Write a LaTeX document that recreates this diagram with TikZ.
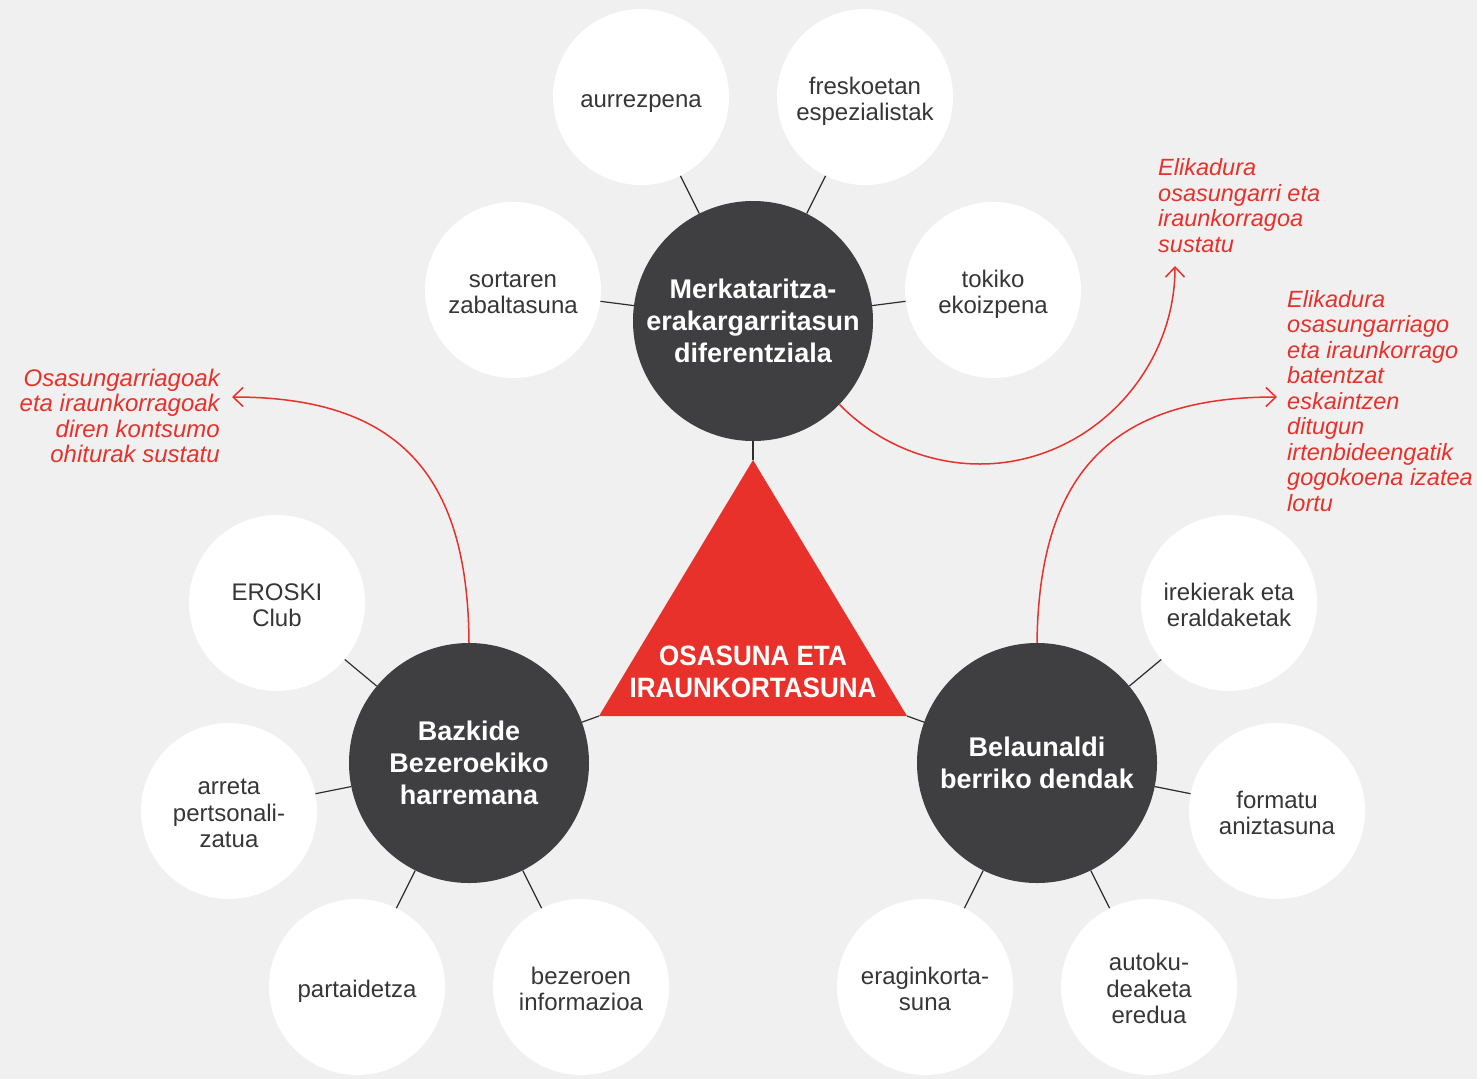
\documentclass[tikz,border=0pt]{standalone}
\usepackage{fontspec}
\setmainfont{Liberation Sans}
\newfontfamily\trifont{Liberation Sans}[FakeStretch=0.93]
\usetikzlibrary{arrows.meta}
\definecolor{bgc}{HTML}{F0F0F0}
\definecolor{darkc}{HTML}{3F3F41}
\definecolor{redc}{HTML}{E8312B}
\definecolor{txtc}{HTML}{363636}
\definecolor{linec}{HTML}{2E2E2E}
\newcommand\lsa{\rule{0pt}{26pt}}
\newcommand\lsb{\rule[-5.5pt]{0pt}{5.5pt}}
\begin{document}
\begin{tikzpicture}[x=1pt,y=-1pt,
  leaf/.style={circle,fill=white,minimum size=176pt,inner sep=0pt,align=center,text=txtc,
    font=\fontsize{24}{26.5}\selectfont},
  hub/.style={circle,fill=darkc,minimum size=240pt,inner sep=0pt,align=center,text=white,font=\bfseries\fontsize{27}{32}\selectfont},
  spoke/.style={draw=linec,line width=1.2pt},
  goal/.style={draw=redc,line width=1.5pt,-{Straight Barb[length=10pt,width=19pt]}},
  note/.style={text=redc,inner sep=0pt,font=\itshape\fontsize{23.5}{25.5}\selectfont}
]
\fill[bgc] (0,0) rectangle (1477,1079);
\useasboundingbox (0,0) rectangle (1477,1079);

% central triangle
\coordinate (apex) at (753,460);
\coordinate (tl) at (599,716);
\coordinate (tr) at (907,716);
\fill[redc] (apex) -- (tl) -- (tr) -- cycle;
\node[font=\trifont\bfseries\fontsize{28}{32}\selectfont,text=white,align=center,inner sep=0pt] (tri) at (753,672) {OSASUNA ETA\\IRAUNKORTASUNA};

% hubs
\node[hub] (top) at (753,321) {Merkataritza-\\erakargarritasun\\diferentziala};
\node[hub] (bl) at (469,763) {Bazkide\\Bezeroekiko\\harremana};
\node[hub] (br) at (1037,763) {Belaunaldi\\berriko dendak};

% leaves
\node[leaf] (aur) at (641,97) {\lsa aurrezpena\lsb};
\node[leaf] (fre) at (865,97) {\lsa freskoetan\\espezialistak\lsb};
\node[leaf] (sor) at (513,290) {\lsa sortaren\\zabaltasuna\lsb};
\node[leaf] (tok) at (993,290) {\lsa tokiko\\ekoizpena\lsb};
\node[leaf] (ero) at (277,603) {\lsa EROSKI\\Club\lsb};
\node[leaf] (arr) at (229,811) {\lsa arreta\\pertsonali-\\zatua\lsb};
\node[leaf] (par) at (357,987) {\lsa partaidetza\lsb};
\node[leaf] (bez) at (581,987) {\lsa bezeroen\\informazioa\lsb};
\node[leaf] (ire) at (1229,603) {\lsa irekierak eta\\eraldaketak\lsb};
\node[leaf] (for) at (1277,811) {\lsa formatu\\aniztasuna\lsb};
\node[leaf] (era) at (925,987) {\lsa eraginkorta-\\suna\lsb};
\node[leaf] (aut) at (1149,987) {\lsa autoku-\\deaketa\\eredua\lsb};

% spokes
\draw[spoke] (aur) -- (top);
\draw[spoke] (fre) -- (top);
\draw[spoke] (sor) -- (top);
\draw[spoke] (tok) -- (top);
\draw[spoke] (ero) -- (bl);
\draw[spoke] (arr) -- (bl);
\draw[spoke] (par) -- (bl);
\draw[spoke] (bez) -- (bl);
\draw[spoke] (ire) -- (br);
\draw[spoke] (for) -- (br);
\draw[spoke] (era) -- (br);
\draw[spoke] (aut) -- (br);
\draw[spoke] (top) -- (apex);
\draw[spoke] (bl) -- (tl);
\draw[spoke] (br) -- (tr);

% red notes
\node[note,anchor=west,align=left] (n1) at (1158,205.5) {Elikadura\\osasungarri eta\\iraunkorragoa\\sustatu};
\node[note,anchor=west,align=left] (n2) at (1287,401) {Elikadura\\osasungarriago\\eta iraunkorrago\\batentzat\\eskaintzen\\ditugun\\irtenbideengatik\\gogokoena izatea\\lortu};
\node[note,anchor=east,align=right,font=\itshape\fontsize{24}{25.5}\selectfont] (n3) at (220,416) {Osasungarriagoak\\eta iraunkorragoak\\diren kontsumo\\ohiturak sustatu};

\coordinate (a1) at (1175,266);
\coordinate (a2) at (1277,397);
\coordinate (a3) at (232,397);

\draw[goal] (top.-44) .. controls (876,442) and (927,464) .. (980,464) .. controls (1087,464) and (1175,374) .. (a1);
\draw[goal] (br.north) .. controls (1039,473) and (1112,397) .. (a2);
\draw[goal] (bl.north) .. controls (468,473) and (397,397) .. (a3);
\end{tikzpicture}
\end{document}
